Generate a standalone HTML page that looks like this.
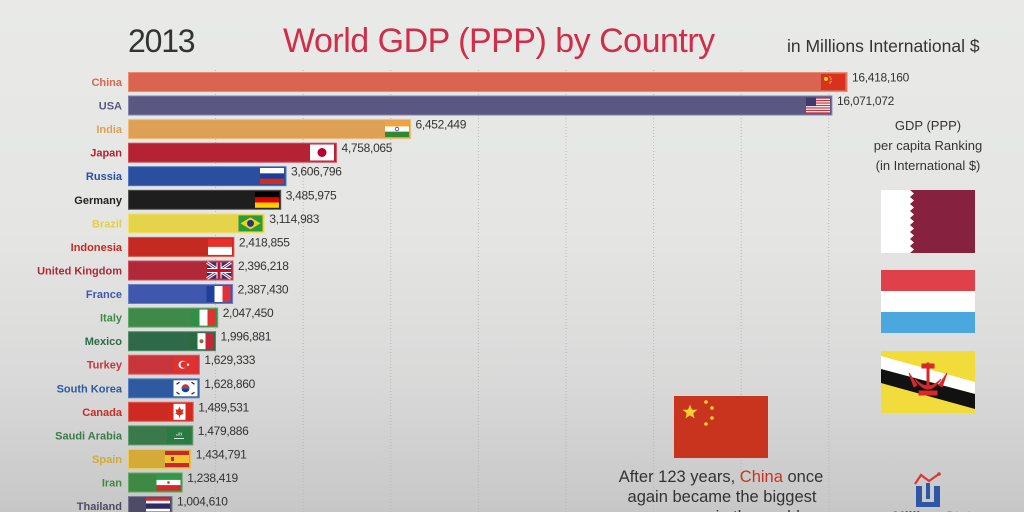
<!DOCTYPE html>
<html><head><meta charset="utf-8"><style>
html,body{margin:0;padding:0;width:1024px;height:512px;overflow:hidden;}
svg{display:block;}
text{font-family:"Liberation Sans",Arial,sans-serif;}
</style></head><body>
<svg width="1024" height="512" viewBox="0 0 1024 512" xmlns="http://www.w3.org/2000/svg">
<defs>
<linearGradient id="bg" x1="0" y1="0" x2="0" y2="1">
<stop offset="0" stop-color="#e9eae8"/>
<stop offset="0.45" stop-color="#e5e6e4"/>
<stop offset="0.75" stop-color="#d8d9d8"/>
<stop offset="1" stop-color="#c6c7c6"/>
</linearGradient>
</defs>
<rect width="1024" height="512" fill="url(#bg)"/>

<!-- gridlines -->
<g stroke="#b8b8b8" stroke-width="1" stroke-dasharray="1,2">
<line x1="215.6" y1="70" x2="215.6" y2="512"/>
<line x1="303.2" y1="70" x2="303.2" y2="512"/>
<line x1="390.8" y1="70" x2="390.8" y2="512"/>
<line x1="478.4" y1="70" x2="478.4" y2="512"/>
<line x1="566" y1="70" x2="566" y2="512"/>
<line x1="653.6" y1="70" x2="653.6" y2="512"/>
<line x1="741.2" y1="70" x2="741.2" y2="512"/>
<line x1="828.8" y1="70" x2="828.8" y2="512"/>
</g>

<!-- titles -->
<text x="128" y="52" font-size="32" fill="#333" letter-spacing="-1.2">2013</text>
<text x="283" y="52" font-size="34" fill="#cf2e4a" letter-spacing="-0.5">World GDP (PPP) by Country</text>
<text x="787" y="52" font-size="17.5" fill="#333">in Millions International $</text>

<!-- rows -->
<g font-size="11" font-weight="bold" text-anchor="end">
<text x="122" y="86" fill="#d9644f">China</text>
<text x="122" y="109.6" fill="#5a5882">USA</text>
<text x="122" y="133.1" fill="#dea055">India</text>
<text x="122" y="156.7" fill="#b52234">Japan</text>
<text x="122" y="180.2" fill="#2a4f9e">Russia</text>
<text x="122" y="203.8" fill="#222">Germany</text>
<text x="122" y="227.4" fill="#e2cf42">Brazil</text>
<text x="122" y="250.9" fill="#c42a22">Indonesia</text>
<text x="122" y="274.5" fill="#b0283a">United Kingdom</text>
<text x="122" y="298" fill="#3f58ae">France</text>
<text x="122" y="321.6" fill="#3e8a48">Italy</text>
<text x="122" y="345.2" fill="#2e6a4a">Mexico</text>
<text x="122" y="368.7" fill="#c8363b">Turkey</text>
<text x="122" y="392.3" fill="#2e5aa0">South Korea</text>
<text x="122" y="415.8" fill="#cc2a22">Canada</text>
<text x="122" y="439.4" fill="#3a7a4a">Saudi Arabia</text>
<text x="122" y="463" fill="#d4aa38">Spain</text>
<text x="122" y="486.5" fill="#3f8a42">Iran</text>
<text x="122" y="510.1" fill="#4e4b66">Thailand</text>
</g>

<!-- bars -->
<g stroke-width="1">
<rect x="128.5" y="72.5" width="718.6" height="19" fill="#d9644f" stroke="#eb8c72"/>
<rect x="128.5" y="96" width="703.4" height="19" fill="#5a5882" stroke="#8482a8"/>
<rect x="128.5" y="119.6" width="282.1" height="19" fill="#dea055" stroke="#f0bd78"/>
<rect x="128.5" y="143.2" width="207.9" height="19" fill="#b52234" stroke="#d04a5a"/>
<rect x="128.5" y="166.7" width="157.5" height="19" fill="#2a4f9e" stroke="#5576c0"/>
<rect x="128.5" y="190.3" width="152.2" height="19" fill="#1e1e1e" stroke="#555"/>
<rect x="128.5" y="213.9" width="135.9" height="19" fill="#e5d34a" stroke="#f2e370"/>
<rect x="128.5" y="237.4" width="105.4" height="19" fill="#c42a22" stroke="#de564c"/>
<rect x="128.5" y="261" width="104.5" height="19" fill="#b0283a" stroke="#cf5060"/>
<rect x="128.5" y="284.5" width="104.1" height="19" fill="#3f58ae" stroke="#6a80cc"/>
<rect x="128.5" y="308.1" width="89.2" height="19" fill="#3e8a48" stroke="#62a86a"/>
<rect x="128.5" y="331.7" width="87" height="19" fill="#2e6a4a" stroke="#558a6c"/>
<rect x="128.5" y="355.2" width="70.9" height="19" fill="#c8363b" stroke="#e06064"/>
<rect x="128.5" y="378.8" width="70.8" height="19" fill="#2e5aa0" stroke="#5880c0"/>
<rect x="128.5" y="402.3" width="64.7" height="19" fill="#cc2a22" stroke="#e45a50"/>
<rect x="128.5" y="425.9" width="64.3" height="19" fill="#3a7a4a" stroke="#609c6e"/>
<rect x="128.5" y="449.5" width="62.3" height="19" fill="#d4aa38" stroke="#ecc860"/>
<rect x="128.5" y="473" width="53.7" height="19" fill="#3f8a42" stroke="#64aa66"/>
<rect x="128.5" y="496.6" width="43.5" height="19" fill="#4e4b66" stroke="#77748e"/>
</g>

<!-- flags in bars -->
<g transform="translate(821,74)"><rect width="24" height="16" fill="#d8321f"/><circle cx="5" cy="5" r="2" fill="#f7d02a"/><circle cx="9" cy="3" r="0.7" fill="#f7d02a"/><circle cx="10" cy="5" r="0.7" fill="#f7d02a"/><circle cx="10" cy="7.5" r="0.7" fill="#f7d02a"/><circle cx="9" cy="9" r="0.7" fill="#f7d02a"/></g>
<g transform="translate(806,97.5)"><rect width="24" height="16" fill="#fff"/>
<g fill="#c8343f"><rect y="0" width="24" height="1.23"/><rect y="2.46" width="24" height="1.23"/><rect y="4.92" width="24" height="1.23"/><rect y="7.38" width="24" height="1.23"/><rect y="9.85" width="24" height="1.23"/><rect y="12.3" width="24" height="1.23"/><rect y="14.77" width="24" height="1.23"/></g>
<rect width="10" height="8.6" fill="#3c3b6e"/></g>
<g transform="translate(385,121)"><rect width="24" height="5.4" fill="#f4a23a"/><rect y="5.4" width="24" height="5.3" fill="#fff"/><rect y="10.7" width="24" height="5.3" fill="#2f8a2f"/><circle cx="12" cy="8" r="1.8" fill="none" stroke="#3a3a9a" stroke-width="0.8"/></g>
<g transform="translate(310,144.5)"><rect width="24" height="16" fill="#fff"/><circle cx="12" cy="8" r="4.5" fill="#bc002d"/></g>
<g transform="translate(260,168)"><rect width="24" height="5.4" fill="#fff"/><rect y="5.4" width="24" height="5.3" fill="#1c3f9c"/><rect y="10.7" width="24" height="5.3" fill="#d52b1e"/></g>
<g transform="translate(255,191.8)"><rect width="24" height="5.4" fill="#000"/><rect y="5.4" width="24" height="5.3" fill="#dd0000"/><rect y="10.7" width="24" height="5.3" fill="#ffce00"/></g>
<g transform="translate(238.5,215.4)"><rect width="24" height="16" fill="#2a9a3a"/><polygon points="2,8 12,2 22,8 12,14" fill="#f2d21e"/><circle cx="12" cy="8" r="3.5" fill="#1f3a8a"/></g>
<g transform="translate(208,238.9)"><rect width="24" height="8" fill="#e8302a"/><rect y="8" width="24" height="8" fill="#fff"/></g>
<g transform="translate(207,262.5)"><rect width="24" height="16" fill="#1a3a8a"/>
<line x1="0" y1="0" x2="24" y2="16" stroke="#fff" stroke-width="3"/><line x1="24" y1="0" x2="0" y2="16" stroke="#fff" stroke-width="3"/>
<line x1="0" y1="0" x2="24" y2="16" stroke="#c8102e" stroke-width="1"/><line x1="24" y1="0" x2="0" y2="16" stroke="#c8102e" stroke-width="1"/>
<rect x="9.5" width="5" height="16" fill="#fff"/><rect y="5.5" width="24" height="5" fill="#fff"/>
<rect x="10.5" width="3" height="16" fill="#c8102e"/><rect y="6.5" width="24" height="3" fill="#c8102e"/></g>
<g transform="translate(206.5,286)"><rect width="8" height="16" fill="#1f3f9a"/><rect x="8" width="8" height="16" fill="#fff"/><rect x="16" width="8" height="16" fill="#e0303a"/></g>
<g transform="translate(191.5,309.6)"><rect width="8" height="16" fill="#2f8f44"/><rect x="8" width="8" height="16" fill="#fff"/><rect x="16" width="8" height="16" fill="#d33"/></g>
<g transform="translate(189.5,333.2)"><rect width="8" height="16" fill="#2a6a40"/><rect x="8" width="8" height="16" fill="#fff"/><rect x="16" width="8" height="16" fill="#c3273a"/><circle cx="12" cy="8" r="2" fill="#8a6a3a"/></g>
<g transform="translate(173.5,356.7)"><rect width="24" height="16" fill="#e03030"/><circle cx="9" cy="8" r="4" fill="#fff"/><circle cx="10.2" cy="8" r="3.2" fill="#e03030"/><circle cx="14.5" cy="8" r="1.2" fill="#fff"/></g>
<g transform="translate(173.5,380.3)"><rect width="24" height="16" fill="#fff"/><path d="M8,8 A4,4 0 0 1 16,8 Z" fill="#cd2e3a"/><path d="M8,8 A4,4 0 0 0 16,8 Z" fill="#0047a0"/>
<g stroke="#222" stroke-width="1.2"><line x1="3" y1="4" x2="6" y2="2"/><line x1="18" y1="2" x2="21" y2="4"/><line x1="3" y1="12" x2="6" y2="14"/><line x1="18" y1="14" x2="21" y2="12"/></g></g>
<g transform="translate(167.5,403.8)"><rect width="24" height="16" fill="#d52b1e"/><rect x="6" width="12" height="16" fill="#fff"/><polygon points="12,3 13.5,6 16,5.5 15,9 16.5,9.5 12,12 7.5,9.5 9,9 8,5.5 10.5,6" fill="#d52b1e"/><rect x="11.6" y="11" width="0.8" height="3" fill="#d52b1e"/></g>
<g transform="translate(167,427.4)"><rect width="24" height="16" fill="#2a7a44"/><text x="12" y="8" font-size="4" fill="#fff" text-anchor="middle">ﻻﺍﻟﻪ</text><line x1="7" y1="11" x2="17" y2="11" stroke="#fff" stroke-width="0.8"/></g>
<g transform="translate(165,451)"><rect width="24" height="16" fill="#c8282a"/><rect y="4" width="24" height="8" fill="#f2c230"/><rect x="6" y="6" width="3" height="4" fill="#a8302a"/></g>
<g transform="translate(156.5,474.5)"><rect width="24" height="5.4" fill="#2f9a48"/><rect y="5.4" width="24" height="5.3" fill="#fff"/><rect y="10.7" width="24" height="5.3" fill="#d8282a"/><circle cx="12" cy="8" r="1.3" fill="#d8282a"/></g>
<g transform="translate(146,498.1)"><rect width="24" height="16" fill="#d8282a"/><rect y="2.67" width="24" height="10.66" fill="#fff"/><rect y="5.33" width="24" height="5.34" fill="#2d2a6a"/></g>

<!-- values -->
<g font-size="12" fill="#333" letter-spacing="-0.3">
<text x="852" y="81.5">16,418,160</text>
<text x="837" y="105">16,071,072</text>
<text x="415.5" y="128.6">6,452,449</text>
<text x="341.5" y="152.2">4,758,065</text>
<text x="291" y="175.7">3,606,796</text>
<text x="285.7" y="199.3">3,485,975</text>
<text x="269.4" y="222.9">3,114,983</text>
<text x="238.9" y="246.4">2,418,855</text>
<text x="238" y="270">2,396,218</text>
<text x="237.6" y="293.5">2,387,430</text>
<text x="222.7" y="317.1">2,047,450</text>
<text x="220.5" y="340.7">1,996,881</text>
<text x="204.4" y="364.2">1,629,333</text>
<text x="204.3" y="387.8">1,628,860</text>
<text x="198.2" y="411.3">1,489,531</text>
<text x="197.8" y="434.9">1,479,886</text>
<text x="195.8" y="458.5">1,434,791</text>
<text x="187.2" y="482">1,238,419</text>
<text x="177" y="505.6">1,004,610</text>
</g>

<!-- right panel -->
<g font-size="13" fill="#333" text-anchor="middle">
<text x="928" y="130">GDP (PPP)</text>
<text x="928" y="150">per capita Ranking</text>
<text x="928" y="170">(in International $)</text>
</g>

<!-- Qatar -->
<g transform="translate(881,190)">
<rect width="94" height="63" fill="#fff"/>
<polygon points="29,0 94,0 94,63 29,63 33,59.5 29,56 33,52.5 29,49 33,45.5 29,42 33,38.5 29,35 33,31.5 29,28 33,24.5 29,21 33,17.5 29,14 33,10.5 29,7 33,3.5" fill="#86213f"/>
</g>
<!-- Luxembourg -->
<g transform="translate(881,270)">
<rect width="94" height="21" fill="#e0404a"/><rect y="21" width="94" height="21" fill="#fff"/><rect y="42" width="94" height="21" fill="#4aa8de"/>
</g>
<!-- Brunei -->
<g transform="translate(881,351)">
<rect width="94" height="62" fill="#f2dc3c"/>
<polygon points="0,5 94,31 94,43 0,18" fill="#fff"/>
<polygon points="0,18 94,43 94,58 0,32" fill="#111"/>
<g fill="#d8282a" stroke="#d8282a">
<rect x="46" y="12" width="2" height="24"/>
<rect x="41" y="13" width="12" height="4"/>
<path d="M34,28 Q47,48 60,28 Q47,42 34,28 Z"/>
<path d="M28,22 L33,36 L36,34 Z"/>
<path d="M66,22 L61,36 L58,34 Z"/>
<rect x="38" y="40" width="18" height="4"/>
</g>
</g>

<!-- big China flag -->
<g transform="translate(674,396)">
<rect width="94" height="62" fill="#c9341f"/>
<polygon points="16,8.5 18,13.6 23.4,13.8 19.2,17.2 20.6,22.4 16,19.4 11.4,22.4 12.8,17.2 8.6,13.8 14,13.6" fill="#f5d033"/>
<circle cx="32" cy="6" r="1.8" fill="#f5d033"/>
<circle cx="38" cy="12" r="1.8" fill="#f5d033"/>
<circle cx="38" cy="22" r="1.8" fill="#f5d033"/>
<circle cx="32" cy="28" r="1.8" fill="#f5d033"/>
</g>

<!-- bottom text -->
<g font-size="16.5" fill="#333" text-anchor="middle">
<text x="721" y="482">After 123 years, <tspan fill="#c8341f">China</tspan> once</text>
<text x="722" y="502">again became the biggest</text>
<text x="722" y="522">economy in the world</text>
</g>

<!-- logo -->
<g>
<path d="M916,486 L916,507 L940,507 L940,486 L934,486 L934,502 L922,502 L922,486 Z" fill="#2f56a6"/>
<rect x="926" y="483" width="4" height="16" fill="#2f56a6"/>
<polyline points="915,484 921,475 929,481 939,474" fill="none" stroke="#d8383a" stroke-width="2.2"/>
<circle cx="939" cy="474" r="1.8" fill="#d8383a"/>
<text x="893" y="521" font-size="14" font-weight="bold" fill="#2f56a6">Millions<tspan fill="#d8383a">Stats</tspan></text>
</g>
</svg>
</body></html>
